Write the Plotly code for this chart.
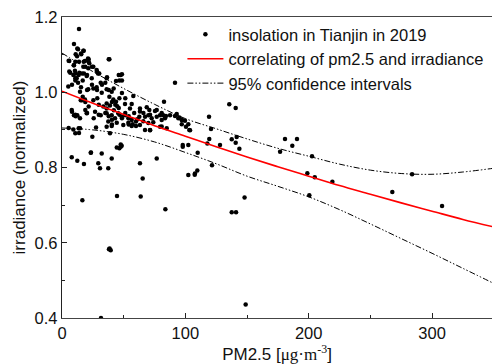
import plotly.graph_objects as go

# ---- data ----
pm25 = [13.8, 9.7, 12.4, 17.3, 15.4, 11.1, 38.4, 5.9, 18.6, 21.6, 13.8, 9.7, 22.1, 25.4, 17.3,
        5.9, 10.5, 14.0, 9.2, 11.9, 17.8, 21.3, 28.1, 30.2, 20.0, 24.1, 31.4, 36.2, 43.8, 47.6,
        48.6, 5.1, 15.4, 21.3, 25.4, 28.1, 32.2, 36.2, 40.3, 14.6, 16.8, 18.6, 15.2, 25.4, 28.6,
        38.4, 41.6, 46.5, 57.8, 91.6, 36.2, 38.9, 43.8, 44.8, 51.1, 56.5, 55.1, 63.2, 68.7, 70.8,
        76.8, 82.7, 79.5, 82.1, 7.9, 9.7, 12.4, 14.6, 11.1, 20.0, 26.8, 31.4, 36.2, 36.2, 40.3,
        43.0, 45.6, 48.4, 51.1, 53.8, 56.5, 53.8, 57.3, 60.0, 62.7, 67.3, 70.0, 72.7, 76.8, 80.8,
        84.3, 87.6, 91.6, 94.3, 97.1, 102.4, 37.5, 36.2, 40.3, 44.4, 49.7, 56.5, 60.0, 63.2, 70.0,
        71.4, 79.5, 84.9, 97.1, 100.5, 27.6, 14.6, 9.2, 13.8, 38.9, 24.6, 48.4, 46.5, 47.6, 102.4,
        97.9, 110.0, 23.3, 32.2, 7.9, 12.4, 17.8, 29.4, 30.8, 37.5, 40.3, 63.2, 76.8, 65.4, 102.4,
        107.8, 109.7, 16.5, 44.6, 63.8, 83.8, 137.6, 141.1, 148.0, 38.1, 39.5, 38.6, 148.9, 31.6,
        10.8, 13.0, 8.1, 16.8, 20.3, 24.3, 28.4, 32.4, 35.1, 37.9, 41.9, 46.5, 48.6, 51.3, 16.2,
        18.9, 21.6, 29.8, 40.5, 43.2, 46.0, 8.1, 10.8, 18.9, 20.3, 25.7, 29.8, 35.1, 37.9, 40.5,
        46.6, 48.6, 51.3, 54.1, 40.5, 54.1, 5.4, 13.5, 10.8, 63.2, 71.4, 75.4, 80.8, 83.5, 93.0,
        95.1, 97.1, 99.7, 103.2, 80.8, 65.9, 67.3, 71.4, 103.8, 119.2, 120.8, 119.4, 117.8, 128.1,
        135.6, 140.8, 137.6, 141.6, 140.8, 143.8, 121.6, 107.6, 176.8, 180.8, 186.7, 190.5, 202.7,
        198.9, 204.9, 219.2, 267.8, 283.8, 308.1, 200.5, 23.5, 44.4, 47.6, 97.9,
        13.0, 17.6, 15.6, 12.2, 37.9, 5.4, 10.8, 17.6, 21.1, 21.6, 9.5, 18.9, 24.3, 28.4, 6.7,
        10.8, 13.5, 16.2, 20.3, 29.2, 36.5, 46.0, 48.6, 10.8, 33.5, 42.0, 58.5, 61.0, 66.0, 74.0]
irradiance = [1.168, 1.128, 1.116, 1.110, 1.103, 1.101, 1.088, 1.083, 1.083, 1.088, 1.081, 1.072, 1.077, 1.068, 1.068,
              1.055, 1.057, 1.052, 1.046, 1.037, 1.050, 1.064, 1.059, 1.050, 1.043, 1.037, 1.025, 1.037, 1.030, 1.046,
              1.031, 1.015, 1.013, 1.008, 1.010, 1.013, 0.999, 1.008, 1.001, 1.001, 0.988, 0.981, 0.979, 0.979, 0.984,
              0.988, 0.981, 0.984, 0.990, 1.025, 0.970, 0.965, 0.975, 0.963, 0.969, 0.969, 0.957, 0.957, 0.960, 0.953,
              0.953, 0.975, 0.939, 0.939, 0.953, 0.939, 0.939, 0.931, 0.936, 0.944, 0.948, 0.939, 0.957, 0.944, 0.939,
              0.931, 0.944, 0.935, 0.939, 0.931, 0.926, 0.919, 0.915, 0.922, 0.935, 0.935, 0.939, 0.931, 0.935, 0.926,
              0.937, 0.939, 0.937, 0.931, 0.926, 0.915, 0.922, 0.908, 0.910, 0.919, 0.913, 0.910, 0.910, 0.913, 0.918,
              0.899, 0.908, 0.904, 0.915, 0.908, 0.906, 0.904, 0.901, 0.892, 0.891, 0.882, 0.858, 0.851, 0.855, 0.860,
              0.855, 0.839, 0.839, 0.837, 0.827, 0.818, 0.809, 0.811, 0.798, 0.798, 0.824, 0.811, 0.824, 0.771, 0.780,
              0.784, 0.792, 0.713, 0.724, 0.723, 0.689, 0.681, 0.681, 0.720, 0.583, 0.580, 0.585, 0.436, 0.400,
              1.031, 1.025, 1.020, 1.031, 1.006, 1.020, 1.006, 1.020, 1.025, 1.006, 1.010, 1.031, 0.998, 0.984, 0.979,
              0.974, 0.962, 0.967, 0.974, 0.967, 0.958, 0.948, 0.940, 0.953, 0.945, 0.931, 0.940, 0.945, 0.936, 0.927,
              0.940, 0.931, 0.945, 0.936, 0.914, 0.914, 0.905, 0.904, 0.891, 0.949, 0.940, 0.950, 0.945, 0.931, 0.942,
              0.933, 0.927, 0.924, 0.900, 0.909, 0.923, 0.900, 0.900, 0.899, 0.935, 0.902, 0.876, 0.864, 0.860,
              0.968, 0.958, 0.875, 0.881, 0.866, 0.850, 0.806, 0.781, 0.842, 0.876, 0.858, 0.876, 0.830,
              0.785, 0.774, 0.762, 0.735, 0.782, 0.698, 0.726, 0.840, 0.853, 0.861, 0.860,
              1.114, 1.110, 1.101, 1.096, 1.088, 1.084, 1.081, 1.081, 1.090, 1.081, 1.072, 1.068, 1.068, 1.055, 1.052,
              1.050, 1.046, 1.050, 1.046, 1.050, 1.040, 1.046, 1.048, 1.037, 0.962, 0.952, 0.945, 0.928, 0.945, 0.920]

fit_x = [0, 25, 50, 75, 100, 125, 150, 175, 200, 225, 250, 275, 300, 325, 350]
fit_y = [1.003, 0.971, 0.941, 0.911, 0.883, 0.855, 0.828, 0.802, 0.777, 0.752, 0.729, 0.706, 0.684, 0.662, 0.642]
upper_ci = [1.104, 1.055, 1.010, 0.968, 0.930, 0.903, 0.876, 0.851, 0.830, 0.809, 0.793, 0.784, 0.782, 0.788, 0.798]
lower_ci = [0.905, 0.900, 0.888, 0.868, 0.840, 0.810, 0.777, 0.750, 0.722, 0.688, 0.650, 0.611, 0.572, 0.532, 0.492]

x_ticks = [0, 100, 200, 300]
y_ticks = [0.4, 0.6, 0.8, 1.0, 1.2]

FONT = "Liberation Sans, Arial, sans-serif"
DASH = "6px,2px,1.5px,2px,1.5px,2px"

fig = go.Figure()
fig.add_trace(go.Scatter(x=pm25, y=irradiance, mode="markers",
                         marker=dict(color="black", size=4.5),
                         name="insolation in Tianjin in 2019"))
fig.add_trace(go.Scatter(x=fit_x, y=fit_y, mode="lines", line=dict(color="#ff0000", width=1.6, shape="spline"),
                         name="correlating of pm2.5 and irradiance"))
fig.add_trace(go.Scatter(x=fit_x, y=upper_ci, mode="lines",
                         line=dict(color="black", width=1, dash=DASH, shape="spline"),
                         name="95% confidence intervals", legendgroup="ci"))
fig.add_trace(go.Scatter(x=fit_x, y=lower_ci, mode="lines",
                         line=dict(color="black", width=1, dash=DASH, shape="spline"),
                         name="95% confidence intervals", legendgroup="ci", showlegend=False))

fig.update_layout(
    width=492, height=364,
    margin=dict(l=62, r=0, t=17, b=46),
    paper_bgcolor="white", plot_bgcolor="white",
    font=dict(family=FONT, size=16, color="#111"),
    legend=dict(x=0.28, y=1.0, xanchor="left", yanchor="top",
                bgcolor="rgba(0,0,0,0)", font=dict(size=16.5, family=FONT),
                tracegroupgap=0, itemwidth=36),
    showlegend=True,
)
fig.update_xaxes(range=[0, 348.6], tickvals=x_ticks, ticks="inside", ticklen=5, tickwidth=1,
                 tickcolor="#222", showgrid=False, zeroline=False,
                 showline=True, linecolor="#444", linewidth=1.3, mirror=True,
                 minor=dict(dtick=50, ticks="inside", ticklen=3, tickcolor="#222"),
                 tickfont=dict(size=16.5, family=FONT),
                 title=dict(text="PM2.5 [<span style='font-family:Liberation Serif'>μg·m<sup>-3</sup></span>]",
                            font=dict(size=17, family=FONT), standoff=1))
fig.update_yaxes(range=[0.4, 1.2], tickvals=y_ticks, tickformat=".1f", ticks="inside", ticklen=5,
                 tickwidth=1, tickcolor="#222", showgrid=False, zeroline=False,
                 showline=True, linecolor="#222", linewidth=1.3,
                 minor=dict(dtick=0.1, ticks="inside", ticklen=3, tickcolor="#222"),
                 tickfont=dict(size=16.5, family=FONT),
                 title=dict(text="irradiance (normalized)", font=dict(size=17, family=FONT), standoff=4))

fig.write_html("out.html")
